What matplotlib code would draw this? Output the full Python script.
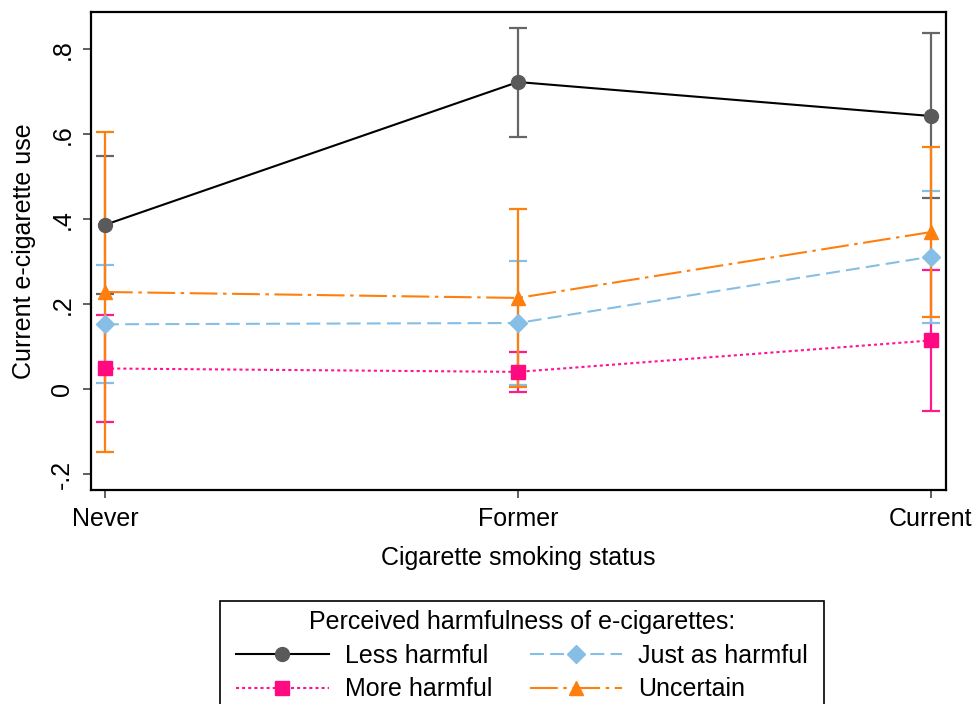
import matplotlib
matplotlib.use("Agg")
import matplotlib.pyplot as plt
from matplotlib.patches import Rectangle

plt.rcParams['font.family'] = ['Liberation Sans', 'DejaVu Sans']
plt.rcParams['lines.scale_dashes'] = False

categories = ["Never", "Former", "Current"]
series_names = ["Less harmful", "More harmful", "Just as harmful", "Uncertain"]

less_est = [0.387, 0.723, 0.643]
less_lo = [0.225, 0.594, 0.449]
less_hi = [0.549, 0.851, 0.838]

more_est = [0.049, 0.041, 0.115]
more_lo = [-0.076, -0.006, -0.050]
more_hi = [0.175, 0.088, 0.281]

just_est = [0.153, 0.156, 0.312]
just_lo = [0.014, 0.010, 0.157]
just_hi = [0.292, 0.302, 0.467]

unc_est = [0.229, 0.215, 0.370]
unc_lo = [-0.147, 0.006, 0.171]
unc_hi = [0.605, 0.424, 0.569]

yticks = [-0.2, 0, 0.2, 0.4, 0.6, 0.8]
yticklabels = ["-.2", "0", ".2", ".4", ".6", ".8"]

FS = 18
W, H = 976, 704
fig = plt.figure(figsize=(W/100, H/100), dpi=100)
ax = fig.add_axes([91/W, 1-490/H, (946-91)/W, (490-12)/H])

x = [1, 2, 3]
styles = [
    dict(est=less_est, lo=less_lo, hi=less_hi, line='black', ci='#666666', mk='#5a5a5a',
         marker='o', ms=10, ls='-'),
    dict(est=more_est, lo=more_lo, hi=more_hi, line='#ff1493', ci='#ff1a8c', mk='#ff0a80',
         marker='s', ms=9.5, ls=(0, (2.2, 2.2))),
    dict(est=just_est, lo=just_lo, hi=just_hi, line='#86bee6', ci='#86bee6', mk='#86bee6',
         marker='D', ms=9, ls=(0, (10, 4.5))),
    dict(est=unc_est, lo=unc_lo, hi=unc_hi, line='#ff7f0e', ci='#ff7f0e', mk='#ff7f0e',
         marker='^', ms=10.5, ls=(0, (20, 4, 2.5, 4))),
]

for i, s in enumerate(styles):
    err = [[e - l for e, l in zip(s['est'], s['lo'])], [h - e for e, h in zip(s['est'], s['hi'])]]
    ax.errorbar(x, s['est'], yerr=err, fmt='none', ecolor=s['ci'], elinewidth=1.6,
                capsize=6.5, capthick=1.6, zorder=2 + i * 0.1)

handles = []
for i, (s, name) in enumerate(zip(styles, series_names)):
    h, = ax.plot(x, s['est'], color=s['line'], linestyle=s['ls'], linewidth=1.5,
                 marker=s['marker'], markersize=s['ms'], markerfacecolor=s['mk'],
                 markeredgecolor=s['mk'], label=name, zorder=3 + i * 0.1)
    handles.append(h)

ax.set_xlim(1 - 14/413, 3 + 15/413)
ax.set_ylim((389.3 - 490) / 425, (389.3 - 12) / 425)
ax.set_xticks(x)
ax.set_xticklabels(categories, fontsize=FS)
ax.set_yticks(yticks)
ax.set_yticklabels(yticklabels, fontsize=FS, rotation=90, va='center')
ax.tick_params(axis='both', direction='out', length=6, width=1.2, color='#444444', pad=6)
for sp in ax.spines.values():
    sp.set_linewidth(1.6)
    sp.set_color('black')
ax.set_xlabel("Cigarette smoking status", fontsize=FS, labelpad=11)
ax.set_ylabel("Current e-cigarette use", fontsize=FS, labelpad=10)

# legend frame (extends beyond bottom edge of figure, as in reference)
fig.patches.append(Rectangle((220/W, -0.05), (824-220)/W, 0.05 + 1 - 601/H,
                             transform=fig.transFigure, facecolor='white',
                             edgecolor='black', linewidth=1.2, zorder=0))

leg = fig.legend(handles, series_names, ncol=2, loc='upper center',
                 bbox_to_anchor=(522/W, 1 - 598/H), fontsize=FS,
                 title="Perceived harmfulness of e-cigarettes:", title_fontsize=FS,
                 frameon=False, numpoints=1,
                 handlelength=3.7, handletextpad=0.64, columnspacing=1.5,
                 labelspacing=0.38, borderpad=0.0)

fig.savefig("out.png", dpi=100, facecolor='white')
